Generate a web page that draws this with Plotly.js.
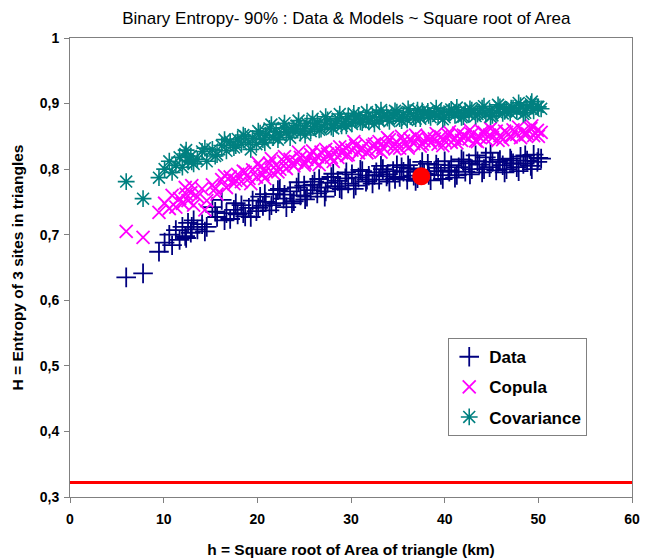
<!DOCTYPE html>
<html>
<head>
<meta charset="utf-8">
<script src="https://cdn.plot.ly/plotly-3.0.1.min.js"></script>
<style>
  html, body { margin: 0; padding: 0; background: #ffffff; }
  #chart { width: 651px; height: 560px; }
</style>
</head>
<body>
<div id="chart"></div>
<script>
// h = square root of triangle area (km), one value per triangle
const hKm = [
  6.0, 7.8, 9.5, 10.1, 10.6, 10.9, 11.3, 11.7, 12.0, 12.3,
  12.6, 12.9, 13.2, 13.6, 14.1, 14.6, 15.2, 15.7, 16.2, 16.7,
  17.1, 17.5, 17.9, 18.3, 18.7, 19.1, 19.5, 19.9, 20.3, 20.6,
  20.9, 21.3, 21.7, 22.0, 22.4, 22.8, 23.1, 23.5, 23.9, 24.2,
  24.6, 25.0, 25.3, 25.7, 26.1, 26.4, 26.8, 27.2, 27.5, 27.9,
  28.3, 28.6, 29.0, 29.4, 29.7, 30.1, 30.5, 30.8, 31.2, 31.6,
  31.9, 32.3, 32.7, 33.0, 33.4, 33.8, 34.1, 34.5, 34.9, 35.2,
  35.6, 36.0, 36.3, 36.7, 37.1, 37.4, 37.8, 38.2, 38.5, 38.9,
  39.3, 39.6, 40.0, 40.4, 40.7, 41.1, 41.5, 41.8, 42.2, 42.6,
  42.9, 43.3, 43.7, 44.0, 44.4, 44.8, 45.1, 45.5, 45.9, 46.2,
  46.6, 47.0, 47.3, 47.7, 48.1, 48.4, 48.8, 49.2, 49.5, 49.9,
  50.3,
  12.4, 13.0, 14.4, 15.5, 16.5, 17.7, 18.5, 19.3, 20.1, 20.8,
  21.5, 22.2, 22.9, 23.7, 24.4, 25.1, 25.9, 26.6, 27.3, 28.1,
  28.8, 29.5, 30.3, 31.0, 31.7, 32.5, 33.2, 33.9, 34.7, 35.4,
  36.1, 36.9, 37.6, 38.3, 39.1, 39.8, 40.5, 41.3, 42.0, 42.7,
  43.5, 44.2, 44.9, 45.7, 46.4, 47.1, 47.9, 48.6, 49.3, 50.0
];

// Observed binary entropy of the 3 sites
const entropyData = [
  0.635, 0.641, 0.674, 0.688, 0.700, 0.684, 0.707, 0.692, 0.712, 0.698,
  0.718, 0.703, 0.722, 0.708, 0.716, 0.712, 0.742, 0.727, 0.753, 0.733,
  0.724, 0.738, 0.731, 0.745, 0.728, 0.741, 0.752, 0.736, 0.758, 0.744,
  0.750, 0.737, 0.762, 0.748, 0.770, 0.755, 0.742, 0.766, 0.751, 0.772,
  0.760, 0.775, 0.758, 0.768, 0.781, 0.763, 0.772, 0.758, 0.779, 0.788,
  0.774, 0.782, 0.769, 0.786, 0.778, 0.792, 0.775, 0.787, 0.797, 0.781,
  0.790, 0.778, 0.795, 0.784, 0.800, 0.789, 0.781, 0.797, 0.806, 0.788,
  0.796, 0.784, 0.801, 0.790, 0.786, 0.799, 0.793, 0.808, 0.783, 0.797,
  0.802, 0.791, 0.812, 0.798, 0.806, 0.787, 0.803, 0.815, 0.796, 0.809,
  0.800, 0.821, 0.807, 0.795, 0.818, 0.803, 0.811, 0.798, 0.814, 0.806,
  0.800, 0.816, 0.809, 0.803, 0.819, 0.808, 0.813, 0.805, 0.822, 0.811,
  0.816,
  0.695, 0.712, 0.705, 0.735, 0.722, 0.748, 0.733, 0.727, 0.741, 0.762,
  0.745, 0.768, 0.761, 0.748, 0.780, 0.754, 0.776, 0.785, 0.766, 0.793,
  0.771, 0.795, 0.770, 0.799, 0.784, 0.791, 0.805, 0.792, 0.785, 0.803,
  0.806, 0.782, 0.811, 0.791, 0.807, 0.785, 0.796, 0.791, 0.812, 0.792,
  0.812, 0.800, 0.825, 0.811, 0.795, 0.813, 0.797, 0.821, 0.800, 0.817
];

// Entropy predicted by the copula model
const entropyCopula = [
  0.705, 0.696, 0.734, 0.748, 0.740, 0.760, 0.742, 0.755, 0.748, 0.772,
  0.752, 0.764, 0.745, 0.758, 0.770, 0.752, 0.776, 0.762, 0.784, 0.772,
  0.788, 0.778, 0.792, 0.781, 0.795, 0.786, 0.799, 0.788, 0.803, 0.792,
  0.798, 0.809, 0.794, 0.806, 0.800, 0.812, 0.801, 0.815, 0.805, 0.811,
  0.818, 0.806, 0.815, 0.822, 0.811, 0.819, 0.826, 0.814, 0.823, 0.818,
  0.828, 0.818, 0.825, 0.833, 0.822, 0.829, 0.836, 0.825, 0.832, 0.839,
  0.828, 0.836, 0.830, 0.842, 0.833, 0.838, 0.845, 0.835, 0.841, 0.832,
  0.843, 0.837, 0.846, 0.839, 0.848, 0.835, 0.843, 0.850, 0.840, 0.846,
  0.838, 0.849, 0.843, 0.852, 0.841, 0.847, 0.855, 0.844, 0.850, 0.846,
  0.853, 0.843, 0.849, 0.857, 0.846, 0.852, 0.848, 0.858, 0.851, 0.845,
  0.856, 0.850, 0.860, 0.853, 0.848, 0.858, 0.854, 0.862, 0.851, 0.859,
  0.856,
  0.762, 0.775, 0.738, 0.770, 0.790, 0.783, 0.797, 0.778, 0.809, 0.786,
  0.816, 0.796, 0.819, 0.808, 0.826, 0.809, 0.828, 0.807, 0.830, 0.812,
  0.834, 0.821, 0.842, 0.830, 0.825, 0.838, 0.826, 0.848, 0.831, 0.850,
  0.832, 0.852, 0.838, 0.845, 0.854, 0.836, 0.857, 0.840, 0.852, 0.860,
  0.842, 0.856, 0.862, 0.844, 0.858, 0.849, 0.864, 0.852, 0.866, 0.850
];

// Entropy predicted by the covariance model
const entropyCovariance = [
  0.781, 0.755, 0.787, 0.800, 0.812, 0.795, 0.806, 0.818, 0.803, 0.823,
  0.813, 0.820, 0.808, 0.815, 0.827, 0.812, 0.830, 0.822, 0.836, 0.828,
  0.842, 0.833, 0.846, 0.838, 0.850, 0.841, 0.847, 0.838, 0.855, 0.845,
  0.851, 0.862, 0.848, 0.857, 0.852, 0.863, 0.856, 0.848, 0.861, 0.866,
  0.855, 0.862, 0.870, 0.858, 0.865, 0.872, 0.861, 0.868, 0.875, 0.864,
  0.870, 0.877, 0.866, 0.873, 0.880, 0.869, 0.876, 0.882, 0.871, 0.878,
  0.872, 0.880, 0.886, 0.874, 0.879, 0.884, 0.873, 0.881, 0.887, 0.877,
  0.883, 0.875, 0.886, 0.880, 0.890, 0.877, 0.884, 0.888, 0.879, 0.885,
  0.881, 0.888, 0.879, 0.886, 0.891, 0.882, 0.887, 0.879, 0.889, 0.884,
  0.890, 0.881, 0.886, 0.893, 0.884, 0.889, 0.882, 0.887, 0.895, 0.885,
  0.891, 0.886, 0.893, 0.888, 0.897, 0.884, 0.893, 0.899, 0.889, 0.895,
  0.892,
  0.829, 0.811, 0.832, 0.820, 0.845, 0.836, 0.852, 0.830, 0.858, 0.840,
  0.868, 0.845, 0.870, 0.858, 0.874, 0.852, 0.877, 0.860, 0.880, 0.862,
  0.884, 0.866, 0.885, 0.872, 0.887, 0.869, 0.890, 0.878, 0.889, 0.874,
  0.892, 0.877, 0.889, 0.882, 0.893, 0.876, 0.888, 0.894, 0.880, 0.892,
  0.884, 0.896, 0.880, 0.898, 0.888, 0.893, 0.901, 0.886, 0.903, 0.895
];

// Highlighted point and reference level
const highlightH = [37.5];
const highlightEntropy = [0.789];
const refLineH = [0, 60];
const refLineEntropy = [0.322, 0.322];

const FONT = '"Liberation Sans", Arial, sans-serif';

const traces = [
  {
    x: refLineH, y: refLineEntropy, type: 'scatter', mode: 'lines',
    line: { color: '#ff0000', width: 3 }, showlegend: false, hoverinfo: 'skip'
  },
  {
    name: 'Data', legendgroup: 'a',
    x: hKm, y: entropyData, type: 'scatter', mode: 'markers',
    marker: { symbol: 'cross-thin-open', size: 14, color: '#000080', line: { color: '#000080', width: 1.8 } }
  },
  {
    name: 'Copula', legendgroup: 'b',
    x: hKm, y: entropyCopula, type: 'scatter', mode: 'markers',
    marker: { symbol: 'x-thin-open', size: 13, color: '#ff00ff', line: { color: '#ff00ff', width: 1.8 } }
  },
  {
    name: 'Covariance', legendgroup: 'c',
    x: hKm, y: entropyCovariance, type: 'scatter', mode: 'markers',
    marker: { symbol: 'asterisk-open', size: 14, color: '#008080', line: { color: '#008080', width: 1.6 } }
  },
  {
    x: highlightH, y: highlightEntropy, type: 'scatter', mode: 'markers',
    marker: { symbol: 'circle', size: 18, color: '#ff0000' }, showlegend: false
  }
];

const layout = {
  width: 651, height: 560,
  margin: { l: 70, r: 19, t: 38, b: 63, pad: 0 },
  paper_bgcolor: '#ffffff', plot_bgcolor: '#ffffff',
  separators: ', ',
  font: { family: FONT, color: '#000000' },
  title: {
    text: 'Binary Entropy- 90% : Data & Models ~ Square root of Area',
    font: { family: FONT, size: 17, color: '#000000' },
    x: 0.532, xanchor: 'center', y: 0.968, yanchor: 'middle'
  },
  xaxis: {
    range: [0, 60], dtick: 10, tick0: 0,
    showgrid: false, zeroline: false,
    showline: true, linecolor: '#808080', linewidth: 1, mirror: true,
    ticks: 'outside', ticklen: 5, tickcolor: '#808080', ticklabelstandoff: 4,
    tickfont: { family: FONT, size: 14, color: '#000000', weight: 'bold' },
    title: { text: 'h = Square root of Area of triangle (km)', standoff: 18,
             font: { family: FONT, size: 15.5, color: '#000000', weight: 'bold' } }
  },
  yaxis: {
    range: [0.3, 1], dtick: 0.1, tick0: 0.3,
    showgrid: false, zeroline: false,
    showline: true, linecolor: '#808080', linewidth: 1, mirror: true,
    ticks: 'outside', ticklen: 5, tickcolor: '#808080', ticklabelstandoff: 2,
    tickfont: { family: FONT, size: 14, color: '#000000', weight: 'bold' },
    title: { text: 'H = Entropy of 3 sites in triangles', standoff: 12,
             font: { family: FONT, size: 15.5, color: '#000000', weight: 'bold' } }
  },
  legend: {
    x: 0.673, y: 0.346, xanchor: 'left', yanchor: 'top',
    bgcolor: '#ffffff', bordercolor: '#808080', borderwidth: 1,
    font: { family: FONT, size: 17, color: '#000000', weight: 'bold' },
    tracegroupgap: 5, itemwidth: 30
  },
  showlegend: true
};

Plotly.newPlot('chart', traces, layout, { displayModeBar: false, staticPlot: true });
</script>
</body>
</html>
